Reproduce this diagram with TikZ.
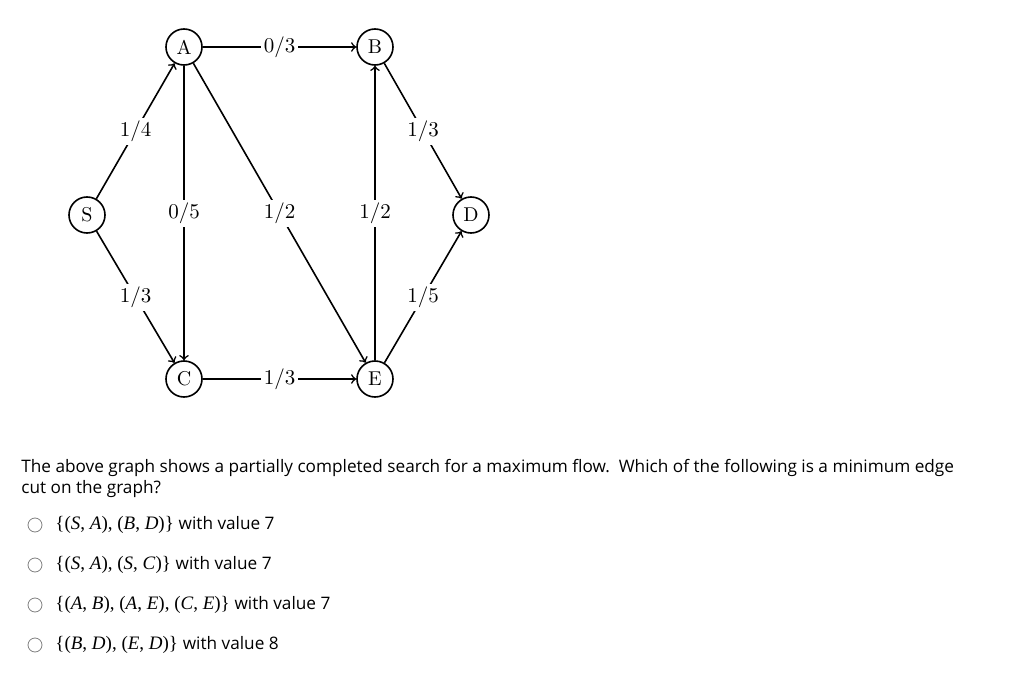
\documentclass[tikz,border=0pt]{standalone}
\usepackage{fontspec}
\newfontfamily\osans{Open Sans}
\newfontfamily\tserif{Liberation Serif}
\begin{document}
\begin{tikzpicture}[x=0.5pt,y=-0.5pt,
  vtx/.style={circle,draw,thick,minimum size=18pt,inner sep=0pt,font=\fontsize{10}{12}\selectfont},
  edge/.style={thick,->,>=to},
  lbl/.style={fill=white,inner sep=1.5pt,font=\fontsize{10.5}{12}\selectfont},
  radio/.style={circle,draw=gray,minimum size=7pt,inner sep=0pt}]
\useasboundingbox (0,0) rectangle (1024,685);
\node[vtx] (S) at (87,215) {S};
\node[vtx] (A) at (184,47) {A};
\node[vtx] (B) at (375,47) {B};
\node[vtx] (D) at (471,215) {D};
\node[vtx] (C) at (184,379) {C};
\node[vtx] (E) at (375,379) {E};
\draw[edge] (S) -- node[lbl]{1/4} (A);
\draw[edge] (S) -- node[lbl]{1/3} (C);
\draw[edge] (A) -- node[lbl]{0/3} (B);
\draw[edge] (A) -- node[lbl]{0/5} (C);
\draw[edge] (A) -- node[lbl]{1/2} (E);
\draw[edge] (E) -- node[lbl]{1/2} (B);
\draw[edge] (C) -- node[lbl]{1/3} (E);
\draw[edge] (B) -- node[lbl]{1/3} (D);
\draw[edge] (E) -- node[lbl]{1/5} (D);
\node[anchor=north west,inner sep=0pt,align=left,font=\osans\fontsize{8.6}{10.6}\selectfont] (q) at (21,459)
 {The above graph shows a partially completed search for a maximum flow.\ \ Which of the following is a minimum edge\\cut on the graph?};
\foreach \y/\t [count=\i] in {525/{\{(\textit{S}, \textit{A}), (\textit{B}, \textit{D})\}},
 565/{\{(\textit{S}, \textit{A}), (\textit{S}, \textit{C})\}},
 605/{\{(\textit{A}, \textit{B}), (\textit{A}, \textit{E}), (\textit{C}, \textit{E})\}}}{
  \node[radio] (r\i) at (35,\y) {};
  \node[anchor=west,inner sep=0pt] (o\i) at (55,\y) {\tserif\fontsize{9.5}{11}\selectfont\t\ \osans\fontsize{8.6}{10}\selectfont with value 7};
}
\node[radio] (r4) at (35,645) {};
\node[anchor=west,inner sep=0pt] (o4) at (55,645) {\tserif\fontsize{9.5}{11}\selectfont\{(\textit{B}, \textit{D}), (\textit{E}, \textit{D})\}\ \osans\fontsize{8.6}{10}\selectfont with value 8};
\end{tikzpicture}
\end{document}
